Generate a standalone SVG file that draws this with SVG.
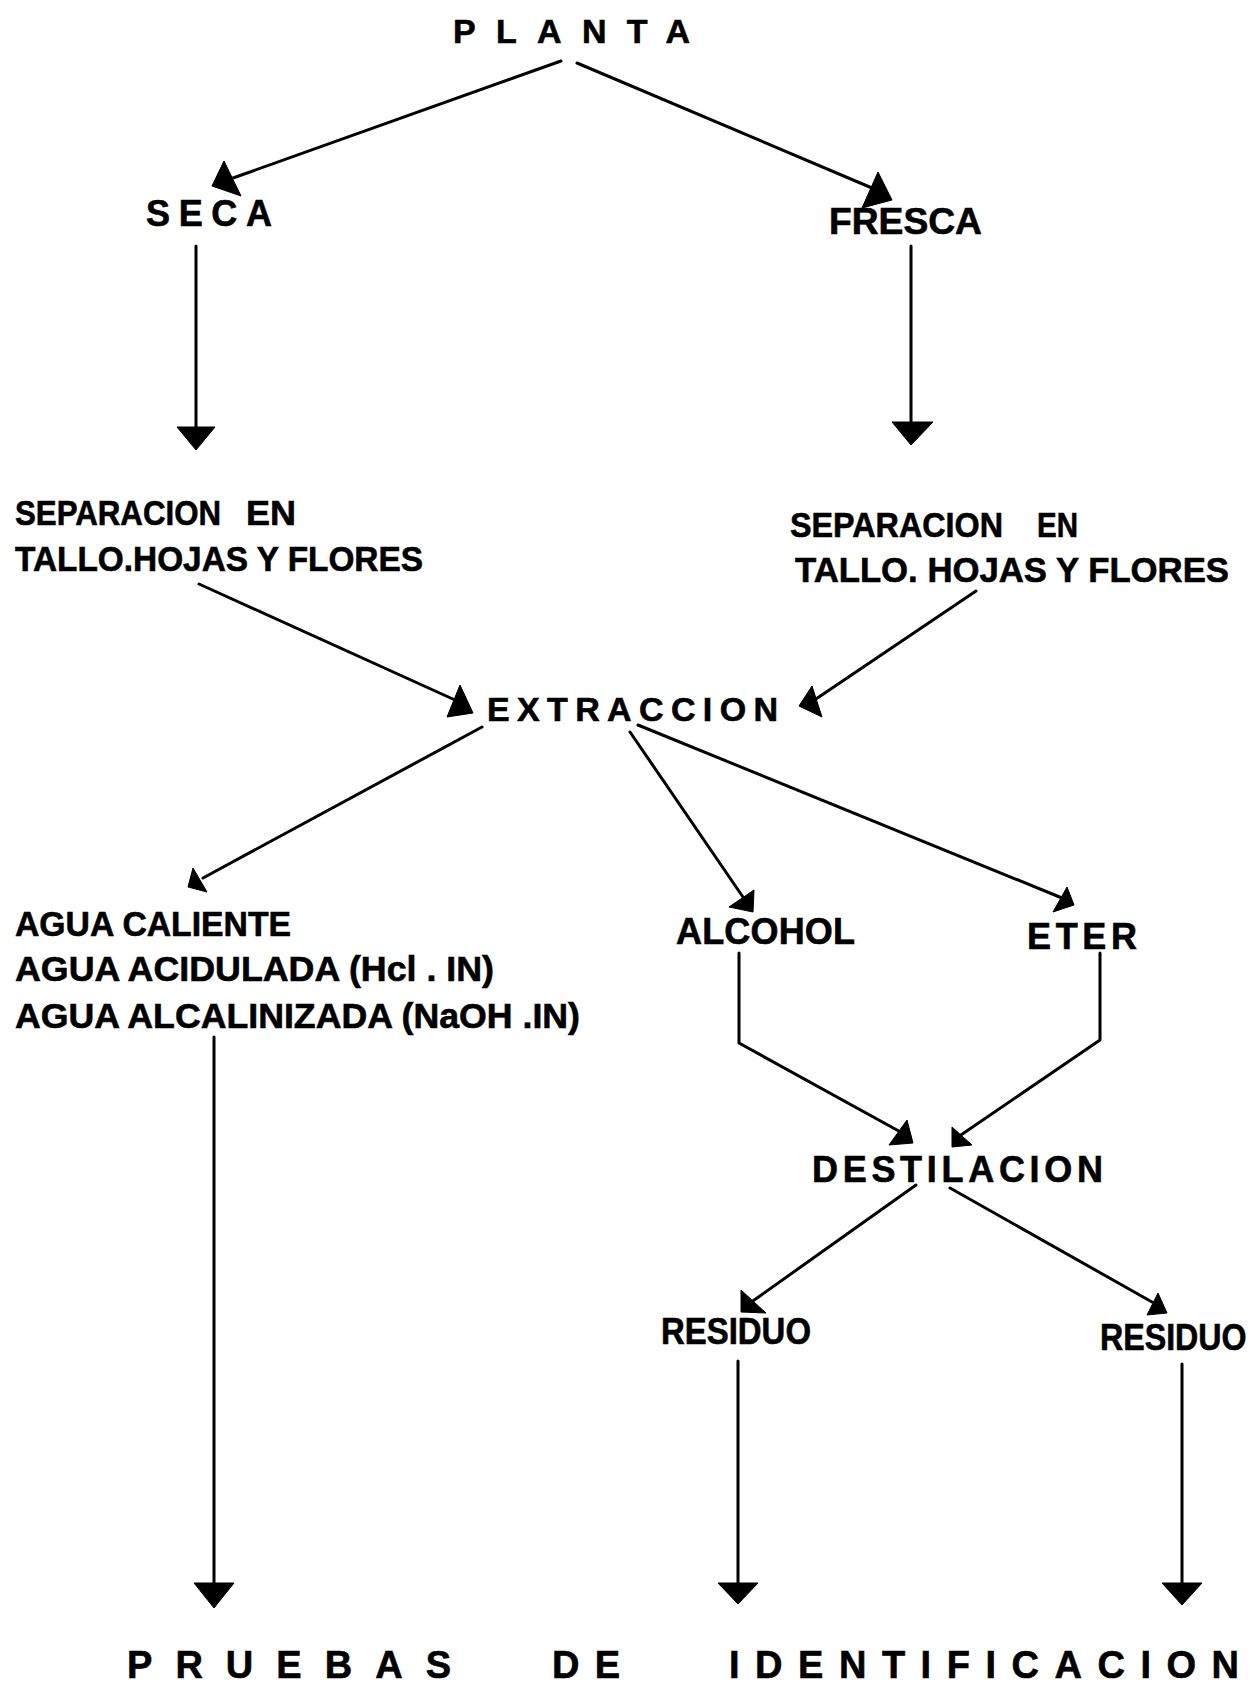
<svg xmlns="http://www.w3.org/2000/svg" width="1256" height="1691" viewBox="0 0 1256 1691">
<style>
  .t { font-family: "Liberation Sans", Arial, sans-serif; font-weight: bold; fill: #000; stroke: #000; stroke-width: 0.6; }
  .c line, .c polyline { stroke: #000; stroke-width: 3; fill: none; stroke-linecap: round; stroke-linejoin: round; }
  .c polygon { fill: #000; stroke: #000; stroke-width: 1; stroke-linejoin: round; }
</style>
<rect width="1256" height="1691" fill="#fff"/>

<g id="planta"><text class="t" x="453" y="43" font-size="34" textLength="237" lengthAdjust="spacing">PLANTA</text></g>
<g id="seca"><text class="t" x="146" y="226" font-size="36" textLength="126" lengthAdjust="spacing">SECA</text></g>
<g id="fresca"><text class="t" x="829" y="234" font-size="37" textLength="153" lengthAdjust="spacingAndGlyphs">FRESCA</text></g>

<g id="separacion-izq">
  <text class="t" x="15" y="525" font-size="35" textLength="206" lengthAdjust="spacingAndGlyphs">SEPARACION</text>
  <text class="t" x="246" y="525" font-size="35" textLength="50" lengthAdjust="spacingAndGlyphs">EN</text>
  <text class="t" x="15" y="571" font-size="35" textLength="408" lengthAdjust="spacingAndGlyphs">TALLO.HOJAS Y FLORES</text>
</g>
<g id="separacion-der">
  <text class="t" x="790" y="537" font-size="35" textLength="213" lengthAdjust="spacingAndGlyphs">SEPARACION</text>
  <text class="t" x="1037" y="537" font-size="35" textLength="41" lengthAdjust="spacingAndGlyphs">EN</text>
  <text class="t" x="795" y="582" font-size="35" textLength="434" lengthAdjust="spacingAndGlyphs">TALLO. HOJAS Y FLORES</text>
</g>

<g id="extraccion"><text class="t" x="487" y="721" font-size="34" textLength="291" lengthAdjust="spacing">EXTRACCION</text></g>

<g id="agua">
  <text class="t" x="15" y="936" font-size="35" textLength="276" lengthAdjust="spacingAndGlyphs">AGUA CALIENTE</text>
  <text class="t" x="15" y="981" font-size="35" textLength="479" lengthAdjust="spacingAndGlyphs">AGUA ACIDULADA (Hcl . IN)</text>
  <text class="t" x="15" y="1028" font-size="35" textLength="565" lengthAdjust="spacingAndGlyphs">AGUA ALCALINIZADA (NaOH .IN)</text>
</g>

<g id="alcohol"><text class="t" x="676" y="944" font-size="36" textLength="179" lengthAdjust="spacing">ALCOHOL</text></g>
<g id="eter"><text class="t" x="1027" y="949" font-size="36" textLength="110" lengthAdjust="spacing">ETER</text></g>
<g id="destilacion"><text class="t" x="812" y="1182" font-size="36" textLength="291" lengthAdjust="spacing">DESTILACION</text></g>
<g id="residuo-izq"><text class="t" x="661" y="1344" font-size="37" textLength="150" lengthAdjust="spacingAndGlyphs">RESIDUO</text></g>
<g id="residuo-der"><text class="t" transform="translate(1100,1350) scale(0.87,1)" x="0" y="0" font-size="37">RESIDUO</text></g>

<g id="pruebas">
  <text class="t" x="127" y="1678" font-size="38" textLength="324" lengthAdjust="spacing">PRUEBAS</text>
  <text class="t" x="552" y="1678" font-size="38" textLength="68" lengthAdjust="spacing">DE</text>
  <text class="t" x="729" y="1678" font-size="38" textLength="510" lengthAdjust="spacing">IDENTIFICACION</text>
</g>

<g id="connectors" class="c">
  <line x1="561" y1="61" x2="233" y2="178"/>
  <polygon points="224,161 212,186 241,196"/>
  <line x1="577" y1="63" x2="872" y2="188"/>
  <polygon points="878,172 862,208 892,200"/>

  <line x1="196" y1="246" x2="196" y2="428"/>
  <polygon points="177,427 215,427 196,450"/>
  <line x1="911" y1="246" x2="911" y2="423"/>
  <polygon points="892,422 933,422 911,445"/>

  <line x1="199" y1="584" x2="455" y2="700"/>
  <polygon points="460,685 447,717 473,713"/>
  <line x1="976" y1="591" x2="810" y2="703"/>
  <polygon points="799,706 812,686 822,717"/>

  <line x1="482" y1="727" x2="203" y2="878"/>
  <polygon points="188,887 193,868 207,892"/>
  <line x1="630" y1="732" x2="745" y2="900"/>
  <polygon points="754,890 729,907 753,912"/>
  <line x1="638" y1="725" x2="1062" y2="898"/>
  <polygon points="1067,887 1053,912 1074,905"/>

  <line x1="214" y1="1037" x2="214" y2="1584"/>
  <polygon points="194,1583 234,1583 214,1608"/>

  <polyline points="739,953 739,1043 906,1135"/>
  <polygon points="907,1120 889,1145 913,1143"/>
  <polyline points="1100,953 1100,1040 958,1137"/>
  <polygon points="952,1127 952,1147 972,1145"/>

  <line x1="916" y1="1185" x2="750" y2="1303"/>
  <polygon points="741,1290 741,1312 766,1313"/>
  <line x1="950" y1="1188" x2="1152" y2="1302"/>
  <polygon points="1158,1293 1147,1315 1167,1313"/>

  <line x1="738" y1="1361" x2="738" y2="1584"/>
  <polygon points="718,1583 758,1583 738,1604"/>
  <line x1="1182" y1="1364" x2="1182" y2="1584"/>
  <polygon points="1162,1583 1202,1583 1182,1605"/>
</g>
</svg>
